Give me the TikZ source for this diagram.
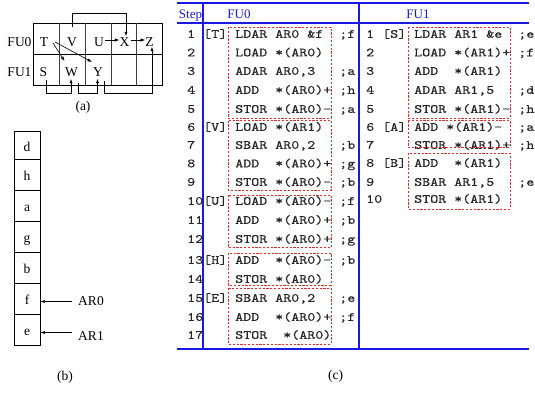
\documentclass[tikz,border=0pt]{standalone}
\usepackage{fontspec}
\setmainfont{Liberation Serif}
\newfontfamily\codefont{lmmono10-regular.otf}[FakeStretch=1.22,FakeBold=0.5]
\usetikzlibrary{arrows.meta,calc}
\definecolor{tblue}{RGB}{25,25,225}
\definecolor{tred}{RGB}{235,40,40}
\begin{document}
\begin{tikzpicture}[x=1pt,y=-1pt,
  lbl/.style={font=\fontsize{13.5}{15}\selectfont, inner sep=0pt},
  cl/.style={lbl, text height=9pt, text depth=0pt},
  bcell/.style={lbl, draw, line width=0.8pt, minimum width=26pt, text height=11pt, text depth=0pt},
  arr/.style={-{Latex[length=4.5pt,width=3.2pt]}, line width=0.6pt},
  gridl/.style={line width=0.9pt},
  code/.style={font=\codefont\fontsize{12.5}{14}\selectfont, text=black!85, anchor=base west, inner sep=0pt},
  hdr/.style={font=\fontsize{13}{14}\selectfont, text=tblue, inner sep=0pt, anchor=base},
  tline/.style={tblue, line width=1.2pt},
  rbox/.style={tred, line width=0.8pt, dash pattern=on 2.2pt off 1.6pt},
]
\useasboundingbox (0,0) rectangle (535,392);

% ---------- (a) ----------
\draw[gridl] (33,23) rectangle (162,85);
\draw[gridl] (33,54) -- (162,54);
\foreach \x in {59,85,111,136} \draw[gridl, black!75] (\x,23) -- (\x,85);
\node[lbl] (fu0) at (19.5,42) {FU0};
\node[lbl] (fu1) at (19.5,72) {FU1};
\node[cl] (T) at (44,42) {T};
\node[cl] (V) at (72,42) {V};
\node[cl] (U) at (99,42) {U};
\node[cl] (X) at (124.5,42) {X};
\node[cl] (Z) at (149.5,42) {Z};
\node[cl] (S) at (43.5,72) {S};
\node[cl] (W) at (71.5,72) {W};
\node[cl] (Y) at (98,72) {Y};
\draw[arr] ($(T)+(9,1)$) -- ($(W)+(-7,-11)$);
\draw[arr] ($(T)+(11,0)$) -- ($(Y)+(-6,-10)$);
\draw[arr] ($(U.east)+(1,-2)$) -- ($(X.west)+(0,-2)$);
\draw[arr] ($(X.east)+(1,-2)$) -- ($(Z.west)+(0,-2)$);
\draw[arr] ($(V)+(0,-15)$) -- ($(V)+(0,-29)$) -| ($(X.north)+(1.5,-1)$);
\draw[arr] ($(S)+(3,8)$) -- ($(S)+(3,21)$) -| ($(W.south)+(-0.5,2)$);
\draw[arr] ($(W)+(6.5,11)$) -- ($(W)+(6.5,21)$) -| ($(Y.south)+(-0.5,2)$);
\draw[arr] ($(Y)+(6,9)$) -- ($(Y)+(6,21)$) -| ($(Z.south)+(2.5,0)$);
\node[lbl] (capa) at (83,107.5) {(a)};

% ---------- (b) ----------
\node[bcell, minimum height=27.6pt] (bd) at (27,145.5) {d};
\node[bcell, minimum height=31.4pt] (bh) at (27,175) {h};
\node[bcell, minimum height=31pt] (ba) at (27,206.2) {a};
\node[bcell, minimum height=31pt] (bg) at (27,237.2) {g};
\node[bcell, minimum height=30.6pt] (bb) at (27,268) {b};
\node[bcell, minimum height=31pt] (bf) at (27,298.8) {f};
\node[bcell, minimum height=31.4pt] (be) at (27,330) {e};
\node[lbl] (AR0) at (91,301.5) {AR0};
\node[lbl] (AR1) at (91,336) {AR1};
\draw[arr] ($(AR0.west)+(-6,0)$) -- (AR0.west -| bf.east);
\draw[arr] ($(AR1.west)+(-6,-3.5)$) -- ($(AR1.west -| be.east)+(0,-3.5)$);
\node[lbl] (capb) at (65,377.5) {(b)};

% ---------- (c) ----------
\draw[tline] (177,3) -- (529,3);
\draw[tline] (177,23) -- (529,23);
\draw[tline] (177,349) -- (529,349);
\draw[tline] (203,3) -- (203,349);
\draw[tline] (359,3) -- (359,349);
\node[hdr] (hstep) at (190.5,18.5) {Step};
\node[hdr] (hfu0) at (239,18.5) {FU0};
\node[hdr] (hfu1) at (418,18.5) {FU1};

% FU0 code
\node[code] (p1)  at (187,37.8)  {1~[T]~LDAR~AR0~\&f~~;f};
\node[code] (p2)  at (187,56.3)  {2~~~~~LOAD~*(AR0)};
\node[code] (p3)  at (187,74.8)  {3~~~~~ADAR~AR0,3~~~;a};
\node[code] (p4)  at (187,93.8)  {4~~~~~ADD~~*(AR0)+~;h};
\node[code] (p5)  at (187,112.8) {5~~~~~STOR~*(AR0)-~;a};
\node[code] (p6)  at (187,130.8) {6~[V]~LOAD~*(AR1)};
\node[code] (p7)  at (187,148.8) {7~~~~~SBAR~AR0,2~~~;b};
\node[code] (p8)  at (187,167.3) {8~~~~~ADD~~*(AR0)+~;g};
\node[code] (p9)  at (187,185.8) {9~~~~~STOR~*(AR0)-~;b};
\node[code] (p10) at (187,204.8) {10[U]~LOAD~*(AR0)-~;f};
\node[code] (p11) at (187,223.8) {11~~~~ADD~~*(AR0)+~;b};
\node[code] (p12) at (187,242.8) {12~~~~STOR~*(AR0)+~;g};
\node[code] (p13) at (187,263.8) {13[H]~ADD~~*(AR0)-~;b};
\node[code] (p14) at (187,282.8) {14~~~~STOR~*(AR0)};
\node[code] (p15) at (187,301.8) {15[E]~SBAR~AR0,2~~~;e};
\node[code] (p16) at (187,320.8) {16~~~~ADD~~*(AR0)+~;f};
\node[code] (p17) at (187,338.8) {17~~~~STOR~~*(AR0)};

% FU1 code
\node[code] (q1)  at (366,37.8)  {1~[S]~LDAR~AR1~\&e~~;e};
\node[code] (q2)  at (366,56.3)  {2~~~~~LOAD~*(AR1)+~;f};
\node[code] (q3)  at (366,74.8)  {3~~~~~ADD~~*(AR1)};
\node[code] (q4)  at (366,93.8)  {4~~~~~ADAR~AR1,5~~~;d};
\node[code] (q5)  at (366,112.8) {5~~~~~STOR~*(AR1)-~;h};
\node[code] (q6)  at (366,130.8) {6~[A]~ADD~*(AR1)-~~;a};
\node[code] (q7)  at (366,148.8) {7~~~~~STOR~*(AR1)+~;h};
\node[code] (q8)  at (366,166.8) {8~[B]~ADD~~*(AR1)};
\node[code] (q9)  at (366,185.8) {9~~~~~SBAR~AR1,5~~~;e};
\node[code] (q10) at (366,202.8) {10~~~~STOR~*(AR1)};

% red dashed blocks
\draw[rbox] (228,27) rectangle (331,118);
\draw[rbox] (228,120.5) rectangle (331,190);
\draw[rbox] (228,195) rectangle (331,247.5);
\draw[rbox] (228,253) rectangle (331,285);
\draw[rbox] (228,288) rectangle (331,344);
\draw[rbox] (408,27) rectangle (510,118);
\draw[rbox] (408,120.5) rectangle (510,147);
\draw[rbox] (408,153) rectangle (510,209);

\node[lbl] (capc) at (335.5,376.7) {(c)};
\end{tikzpicture}
\end{document}
